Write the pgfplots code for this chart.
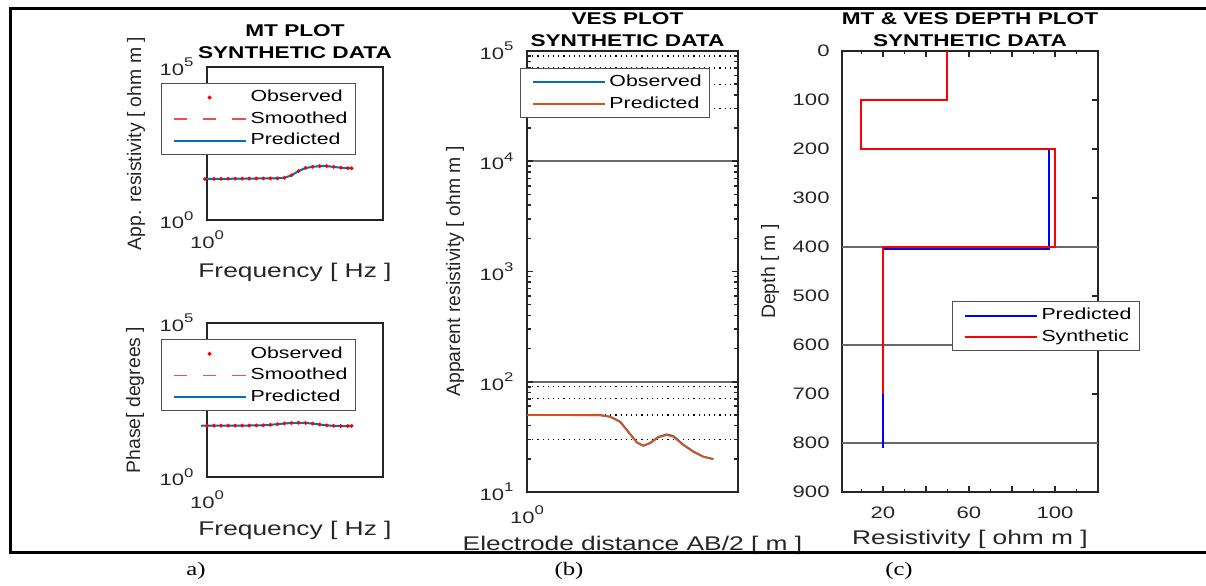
\documentclass[border=0pt]{standalone}
\usepackage{fontspec}
\setmainfont{Liberation Sans}[FakeStretch=1.33]
\newfontfamily\rotfont{Liberation Sans}
\newfontfamily\capfont{Liberation Serif}[FakeStretch=1.3]
\usepackage{pgfplots}
\usepackage{pgfplotstable}
\pgfplotsset{compat=1.18}

\definecolor{axc}{RGB}{38,38,38}
\definecolor{mblue}{RGB}{0,114,189}
\definecolor{morange}{RGB}{217,83,25}
\definecolor{smred}{RGB}{245,75,75}
\definecolor{gridc}{RGB}{105,105,105}

% 10 to the power, set in the text font
\newcommand\tp[1]{10\raisebox{4.3pt}{\fontsize{6.3}{7}\selectfont #1}}

% MT apparent resistivity
\pgfplotstableread{
f      rho
0.871  21.88
1.585  21.98
2.512  22.13
3.981  22.23
6.310  22.39
10     22.49
15.85  22.65
25.12  22.75
39.81  22.91
63.10  23.01
100    23.01
158.5  23.99
251.2  28.84
398.1  39.81
631.0  50.12
1000   54.70
1585   57.54
2512   57.94
3981   54.33
6310   51.29
10000  49.55
12882  48.98
}\mtrho

% MT phase
\pgfplotstableread{
f      ph
0.676  46.34
1      46.34
1.585  46.34
2.512  46.45
3.981  46.56
6.310  46.67
10     46.77
15.85  46.99
25.12  47.32
39.81  47.86
63.10  49.55
100    51.88
158.5  54.70
251.2  56.89
398.1  57.94
631.0  56.89
1000   54.33
1585   50.70
2512   47.64
3981   45.92
6310   45.19
10000  45.29
12882  45.50
}\mtph

% VES sounding
\pgfplotstableread{
ab     obs    pred
1      49.9   49.9
2      49.9   49.9
4.08   49.9   49.9
7      49.85  49.85
10.91  49.8   49.8
15.14  48.2   48.2
20.99  43.5   43.5
27.54  35.2   35.2
36.31  28.2   28.2
45.08  26.3   26.3
56.10  27.8   27.7
73.62  31.6   31.3
96.83  33.3   32.9
120.2  32.2   31.8
166.7  26.9   26.7
231.7  23.3   23.2
321.4  20.9   20.9
445.6  19.9   19.9
}\ves

\pgfplotsset{
  every axis/.append style={
    scale only axis, anchor=south west, clip=false,
    axis line style={axc, line width=0.9pt},
    tick align=inside,
    tick label style={font=\fontsize{8.3}{10}\selectfont, text=axc},
    yticklabel style={xshift=-3.2pt},
    legend cell align=left,
    legend style={draw=axc!80, line width=0.5pt, fill=white,
      inner xsep=3pt, inner ysep=1.6pt, font=\fontsize{8}{10}\selectfont,
      text=black, column sep=1pt,
      nodes={inner sep=1pt, text height=6.5pt, text depth=2.25pt}},
  },
  every tick/.style={axc, line width=0.8pt},
  every axis title/.style={at={(axis description cs:0.5,1)}, anchor=south,
    inner sep=0pt, align=center, font=\fontsize{8.5}{11}\selectfont\bfseries, text=black},
  every axis x label/.style={anchor=base, font=\fontsize{9.9}{12}\selectfont, text=axc},
  every axis y label/.style={anchor=center, rotate=90,
    font=\rotfont\fontsize{9.7}{12}\selectfont, text=axc},
  legend image code/.code={\path[draw=none, fill=none] (0pt,0pt) -- (39pt,0pt);
    \draw[#1] (3pt,0pt) -- (39pt,0pt);},
  dot legend/.style={legend image code/.code={\path[draw=none, fill=none] (0pt,0pt) -- (39pt,0pt);
    \draw[##1] plot coordinates {(21pt,0pt)};}},
  /pgf/number format/assume math mode=true,
}

\begin{document}
\begin{tikzpicture}

% a) MT apparent resistivity
\begin{axis}[at={(103.5pt,-110pt)}, width=88pt, height=76.5pt,
  xmode=log, ymode=log, xmin=1, xmax=100000, ymin=1, ymax=100000,
  xtick={1}, xticklabels={\tp{0}}, ytick={1,100000}, yticklabels={\tp{0},\tp{5}},
  major tick length=0pt, xminorticks=false, yminorticks=false,
  xticklabel style={yshift=-2pt},
  title={MT PLOT\\SYNTHETIC DATA}, title style={yshift=4pt},
  xlabel={Frequency [ Hz ]},
  xlabel style={at={(axis description cs:0.5,-0.379)}},
  ylabel={App. resistivity [ ohm m ]},
  ylabel style={at={(axis description cs:-0.403,0.5)}},
  legend style={at={(axis description cs:-0.261,0.895)}, anchor=north west},
]
\addplot[only marks, mark=*, mark size=0.75pt, red, dot legend] table[x=f, y=rho] {\mtrho};
\addplot[smred, line width=0.6pt, dash pattern=on 6.75pt off 7.9pt] table[x=f, y=rho] {\mtrho};
\addplot[mblue, line width=1pt] table[x=f, y=rho] {\mtrho};
\legend{Observed, Smoothed, Predicted}
\end{axis}

% a) MT phase
\begin{axis}[at={(103.5pt,-238.5pt)}, width=88pt, height=77pt,
  xmode=log, ymode=log, xmin=1, xmax=100000, ymin=1, ymax=100000,
  xtick={1}, xticklabels={\tp{0}}, ytick={1,100000}, yticklabels={\tp{0},\tp{5}},
  major tick length=0pt, xminorticks=false, yminorticks=false,
  xticklabel style={yshift=-3.5pt},
  xlabel={Frequency [ Hz ]},
  xlabel style={at={(axis description cs:0.5,-0.377)}},
  ylabel={Phase[ degrees ]},
  ylabel style={at={(axis description cs:-0.409,0.5)}},
  legend style={at={(axis description cs:-0.261,0.894)}, anchor=north west},
]
\addplot[only marks, mark=*, mark size=0.75pt, red, dot legend,
  skip coords between index={0}{1}] table[x=f, y=ph] {\mtph};
\addplot[smred, line width=0.6pt, dash pattern=on 6.75pt off 7.9pt] table[x=f, y=ph] {\mtph};
\addplot[mblue, line width=1pt] table[x=f, y=ph] {\mtph};
\legend{Observed, Smoothed, Predicted}
\end{axis}

% b) VES grid only
\begin{axis}[at={(263.5pt,-246pt)}, width=105.5pt, height=220.5pt,
  xmode=log, ymode=log, xmin=1, xmax=1000, ymin=10, ymax=100000,
  axis line style={draw=none}, xtick=\empty, ytick={100,10000}, yticklabels={},
  minor ytick={30,50,70,90,30000,50000,70000,90000},
  major tick length=0pt, minor tick length=0pt,
  ymajorgrids, yminorgrids,
  major grid style={gridc, line width=0.8pt},
  minor grid style={black, line width=0.6pt, dash pattern=on 0.6pt off 2pt},
]
\addplot[draw=none] table[x=ab, y=obs] {\ves};
\end{axis}

% b) VES
\begin{axis}[at={(263.5pt,-246pt)}, width=105.5pt, height=220.5pt,
  xmode=log, ymode=log, xmin=1, xmax=1000, ymin=10, ymax=100000,
  xtick={1}, xticklabels={\tp{0}}, xticklabel style={yshift=-3.5pt},
  ytick={10,100,1000,10000,100000},
  yticklabels={\tp{1},\tp{2},\tp{3},\tp{4},\tp{5}},
  minor ytick={20,30,40,50,60,70,80,90,200,300,400,500,600,700,800,900,
    2000,3000,4000,5000,6000,7000,8000,9000,20000,30000,40000,50000,60000,70000,80000,90000},
  xminorticks=false,
  major tick length=3pt, minor tick length=2pt,
  title={VES PLOT\\SYNTHETIC DATA}, title style={yshift=2pt, xshift=-2.5pt},
  xlabel={Electrode distance AB/2 [ m ]},
  xlabel style={at={(axis description cs:0.5,-0.1315)}},
  ylabel={Apparent resistivity [ ohm m ]},
  ylabel style={at={(axis description cs:-0.341,0.5)}},
  legend style={at={(axis description cs:-0.033,0.9615)}, anchor=north west},
]
\addplot[mblue, line width=0.95pt] table[x=ab, y=obs] {\ves};
\addplot[morange, line width=0.9pt] table[x=ab, y=pred] {\ves};
\legend{Observed, Predicted}
\end{axis}

% c) depth plot
\begin{axis}[at={(421pt,-246pt)}, width=128pt, height=220.5pt,
  xmin=1, xmax=120, ymin=0, ymax=900, y dir=reverse,
  xtick={20,40,60,80,100}, xticklabels={20,,60,,100},
  xticklabel style={yshift=-3.8pt},
  minor xtick={10,30,50,70,90,110},
  ytick={0,100,200,300,400,500,600,700,800,900},
  yticklabel style={xshift=0.5pt},
  ytick pos=right, yticklabel pos=left,
  major tick length=3pt, minor tick length=1.5pt,
  extra y ticks={400,600,800}, extra y tick labels={},
  extra y tick style={major tick length=0pt, grid=major,
    major grid style={gridc, line width=0.8pt}},
  title={MT \& VES DEPTH PLOT\\SYNTHETIC DATA}, title style={yshift=2pt},
  xlabel={Resistivity [ ohm m ]},
  xlabel style={at={(axis description cs:0.5,-0.120)}},
  ylabel={Depth [ m ]},
  ylabel style={at={(axis description cs:-0.281,0.5)}},
  legend style={at={(axis description cs:0.4297,0.433)}, anchor=north west},
]
\addplot[blue, line width=1pt] coordinates {
  (50,0) (50,100) (10,100) (10,200) (97,200) (97,405) (20,405) (20,810)};
\addplot[red, line width=1pt] coordinates {
  (50,0) (50,100) (10,100) (10,200) (100,200) (100,400) (20,400) (20,700)};
\legend{Predicted, Synthetic}
\end{axis}

% frame and panel captions
\draw[line width=1.5pt, black] (603pt,-4.25pt) -- (5pt,-4.25pt) -- (5pt,-276.25pt) -- (603pt,-276.25pt);
\node[font=\capfont\fontsize{9.5}{11}\selectfont, anchor=base] at (98pt,-287.5pt) {a)};
\node[font=\capfont\fontsize{9.5}{11}\selectfont, anchor=base] at (284.5pt,-287.5pt) {(b)};
\node[font=\capfont\fontsize{9.5}{11}\selectfont, anchor=base] at (449.5pt,-287.5pt) {(c)};

\pgfresetboundingbox
\useasboundingbox (0pt,0pt) rectangle (603pt,-292.5pt);
\end{tikzpicture}
\end{document}
